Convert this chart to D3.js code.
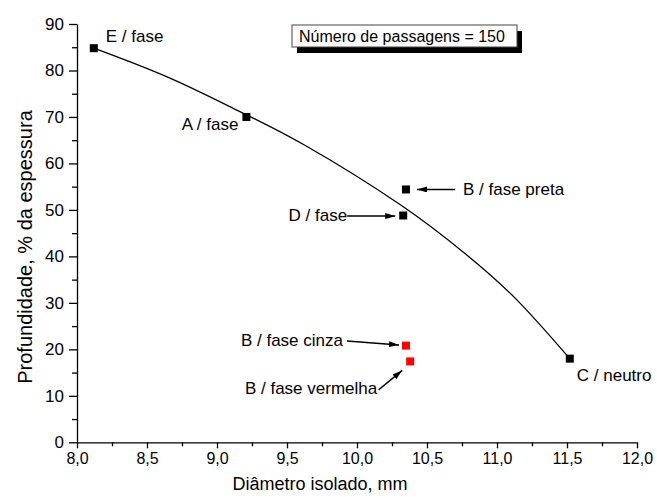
<!DOCTYPE html>
<html>
<head>
<meta charset="utf-8">
<script src="https://cdn.jsdelivr.net/npm/d3@7"></script>
<style>
  body { margin: 0; background: #fff; }
  svg text { font-family: Arial, "Liberation Sans", sans-serif; fill: #000; }
</style>
</head>
<body>
<div class="chart"></div>
<script>
// black points: E, A, B preta, D, C
const labels = ['E / fase', 'A / fase', 'B / fase preta', 'D / fase', 'C / neutro'];
const diam = [8.12, 9.21, 10.35, 10.33, 11.52];
const depth = [84.8, 70.0, 54.4, 48.8, 18.0];

// red points
const redLabels = ['B / fase cinza', 'B / fase vermelha'];
const redDiam = [10.35, 10.38];
const redDepth = [20.8, 17.4];

// fitted curve
const curveX = [8.12, 8.66, 9.16, 9.64, 10.31, 10.78, 11.14, 11.52];
const curveY = [84.8, 78.4, 71.2, 63.7, 51.1, 40.4, 30.7, 18.0];

const xTicks = [8.0, 8.5, 9.0, 9.5, 10.0, 10.5, 11.0, 11.5, 12.0];
const yTicks = [0, 10, 20, 30, 40, 50, 60, 70, 80, 90];

const width = 657, height = 500;
const margin = {left: 77, right: 20, top: 24, bottom: 58};

const svg = d3.select('.chart').append('svg').attr('width', width).attr('height', height);

const x = d3.scaleLinear().domain([8, 12]).range([margin.left, 637]);
const y = d3.scaleLinear().domain([0, 90]).range([442.3, margin.top]);

const comma = d3.formatLocale({decimal: ',', thousands: '.', grouping: [3], currency: ['', '']}).format('.1f');

// minor ticks first
svg.append('g').attr('transform', `translate(0,${y(0)})`)
  .call(d3.axisBottom(x).tickValues(d3.range(8.25, 12, 0.5)).tickSize(4).tickFormat(''))
  .call(g => g.select('.domain').remove());
svg.append('g').attr('transform', `translate(${x(8)},0)`)
  .call(d3.axisLeft(y).tickValues(d3.range(5, 90, 10)).tickSize(5).tickFormat(''))
  .call(g => g.select('.domain').remove());

// major axes
svg.append('g').attr('transform', `translate(0,${y(0)})`)
  .call(d3.axisBottom(x).tickValues(xTicks).tickSize(6).tickSizeOuter(0).tickPadding(4).tickFormat(comma))
  .call(g => g.selectAll('text').attr('font-size', 16))
  .call(g => g.select('.domain').attr('stroke-width', 1.3));
svg.append('g').attr('transform', `translate(${x(8)},0)`)
  .call(d3.axisLeft(y).tickValues(yTicks).tickSize(8).tickSizeOuter(0).tickPadding(5))
  .call(g => g.selectAll('text').attr('font-size', 17))
  .call(g => g.select('.domain').attr('stroke-width', 1.3));

svg.selectAll('.tick line').attr('stroke-width', 1.3);

// axis titles
svg.append('text').attr('x', 320).attr('y', 490).attr('text-anchor', 'middle')
  .attr('font-size', 18).text('Diâmetro isolado, mm');
svg.append('text').attr('transform', 'translate(32,247) rotate(-90)').attr('text-anchor', 'middle')
  .attr('font-size', 20).text('Profundidade, % da espessura');

// fit line
const line = d3.line().x(d => x(d[0])).y(d => y(d[1])).curve(d3.curveNatural);
svg.append('path').datum(d3.zip(curveX, curveY))
  .attr('d', line).attr('fill', 'none').attr('stroke', '#000').attr('stroke-width', 1.3);

// markers
const ms = 8;
svg.selectAll('rect.black').data(d3.zip(diam, depth)).join('rect').attr('class', 'black')
  .attr('x', d => x(d[0]) - ms / 2).attr('y', d => y(d[1]) - ms / 2)
  .attr('width', ms).attr('height', ms).attr('fill', '#000');
svg.selectAll('rect.red').data(d3.zip(redDiam, redDepth)).join('rect').attr('class', 'red')
  .attr('x', d => x(d[0]) - ms / 2).attr('y', d => y(d[1]) - ms / 2)
  .attr('width', ms).attr('height', ms).attr('fill', '#ff0000');

// arrowhead
svg.append('defs').append('marker').attr('id', 'ah')
  .attr('viewBox', '0 0 10 6').attr('refX', 10).attr('refY', 3)
  .attr('markerWidth', 10).attr('markerHeight', 6).attr('markerUnits', 'userSpaceOnUse')
  .attr('orient', 'auto')
  .append('path').attr('d', 'M0,0L10,3L0,6Z').attr('fill', '#000');

// label layout: offsets from the marker, in pixels
const labelLayout = [
  {dx: 12, dy: -6, anchor: 'start'},
  {dx: -8, dy: 13, anchor: 'end'},
  {dx: 57, dy: 6, anchor: 'start', arrow: [49, 0, 11, 0]},
  {dx: -56, dy: 6, anchor: 'end', arrow: [-56, 0.6, -8, 0.6]},
  {dx: 7, dy: 22, anchor: 'start'}
];
const redLayout = [
  {dx: -63, dy: 0, anchor: 'end', arrow: [-59, -4.7, -7, -0.7]},
  {dx: -33, dy: 33, anchor: 'end', arrow: [-31.5, 28.3, -8, 9]}
];

function annotate(names, xs, ys, layout) {
  names.forEach((name, i) => {
    const px = x(xs[i]), py = y(ys[i]), l = layout[i];
    svg.append('text').attr('x', px + l.dx).attr('y', py + l.dy)
      .attr('text-anchor', l.anchor).attr('font-size', 17).text(name);
    if (l.arrow) {
      svg.append('line')
        .attr('x1', px + l.arrow[0]).attr('y1', py + l.arrow[1])
        .attr('x2', px + l.arrow[2]).attr('y2', py + l.arrow[3])
        .attr('stroke', '#000').attr('stroke-width', 1.5).attr('marker-end', 'url(#ah)');
    }
  });
}
annotate(labels, diam, depth, labelLayout);
annotate(redLabels, redDiam, redDepth, redLayout);

// text box with shadow
const box = svg.append('g').attr('transform', 'translate(292,25)');
box.append('rect').attr('x', 5).attr('y', 6).attr('width', 225).attr('height', 22).attr('fill', '#000');
box.append('rect').attr('x', 0).attr('y', 0).attr('width', 225).attr('height', 22)
  .attr('fill', '#fff').attr('stroke', '#444').attr('stroke-width', 1);
box.append('text').attr('x', 7).attr('y', 17).attr('font-size', 16).text('Número de passagens = 150');
</script>
</body>
</html>
